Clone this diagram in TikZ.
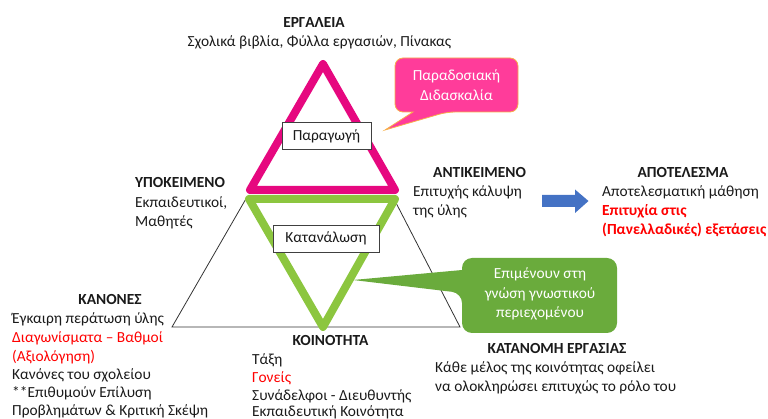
\documentclass[tikz,border=0pt]{standalone}
\usepackage{fontspec}
\setmainfont{Carlito}
\definecolor{pinkT}{HTML}{E6087F}
\definecolor{pinkC}{HTML}{FF3C9A}
\definecolor{pinkB}{HTML}{F7B04A}
\definecolor{greenT}{HTML}{8CC63F}
\definecolor{greenC}{HTML}{6AAB3C}
\definecolor{blueA}{HTML}{4472C4}
\definecolor{txt}{HTML}{1A1A1A}
\definecolor{redT}{HTML}{FF0000}
\begin{document}
\begin{tikzpicture}[x=1pt,y=-1pt,
  every node/.style={inner sep=0pt,font=\fontsize{15.4}{19}\selectfont,text=txt},
  ln/.style={anchor=base west},
  ttl/.style={anchor=base,font=\fontsize{15.4}{19}\selectfont\bfseries},
  red/.style={text=redT},
  redb/.style={text=redT,font=\fontsize{15.4}{19}\selectfont\bfseries},
  lbox/.style={draw=black!75,line width=0.7pt,fill=white,minimum width=#1,minimum height=27pt},
  ctext/.style={text=white,align=center,font=\fontsize{15.4}{19.5}\selectfont}]
\useasboundingbox (0,0) rectangle (768,419);
% thin outer triangle
\coordinate (bl) at (172,327);
\coordinate (br) at (460,327);
\coordinate (gl) at (247,197);
\coordinate (gr) at (393,197);
\draw[black!80,line width=0.8pt] (gr) -- (br) -- (bl) -- (gl);
% green triangle
\coordinate (g1) at (249,199);
\coordinate (g2) at (395,199);
\coordinate (g3) at (323,327);
\draw[greenT,line width=8pt,line join=round] (g1) -- (g2) -- (g3) -- cycle;
% pink triangle
\coordinate (p1) at (323,64);
\coordinate (p2) at (395,190);
\coordinate (p3) at (250,190);
\draw[pinkT,line width=8pt,line join=round] (p1) -- (p2) -- (p3) -- cycle;
% label boxes
\node[lbox=89pt] (prod) at (326.5,136) {Παραγωγή};
\node[lbox=106pt] (cons) at (326,238.5) {Κατανάλωση};
% pink callout
\draw[pinkB,line width=0.8pt,fill=pinkC,rounded corners=8pt]
  (456,58) -- (518,58) -- (518,112) -- (447,112) [sharp corners] -- (385,130) -- (413,112) [rounded corners=8pt] -- (395,112) -- (395,58) -- cycle;
\node[ctext] (trad) at (456.5,85) {Παραδοσιακή\\Διδασκαλία};
% green callout
\fill[greenC,rounded corners=10pt]
  (540,258) -- (617,258) -- (617,333) -- (462,333) -- (462,293) [sharp corners] -- (353,280) -- (462,270) [rounded corners=10pt] -- (462,258) -- cycle;
\node[ctext] (insist) at (540,294) {Επιμένουν στη\\γνώση γνωστικού\\περιεχομένου};
% blue arrow
\fill[blueA] (542,195) -- (575,195) -- (575,189.5) -- (588.5,201) -- (575,213) -- (575,207) -- (542,207) -- cycle;
% tools
\node[ttl] (t0) at (314,28) {ΕΡΓΑΛΕΙΑ};
\node[anchor=base] (t1) at (319.5,47) {Σχολικά βιβλία, Φύλλα εργασιών, Πίνακας};
% subject
\node[ttl,anchor=base west] (s0) at (135,188) {ΥΠΟΚΕΙΜΕΝΟ};
\node[ln] (s1) at (135,208) {Εκπαιδευτικοί,};
\node[ln] (s2) at (135,227) {Μαθητές};
% object
\node[ttl,anchor=base west] (o0) at (433,178) {ΑΝΤΙΚΕΙΜΕΝΟ};
\node[ln] (o1) at (413,197) {Επιτυχής κάλυψη};
\node[ln] (o2) at (413,215.5) {της ύλης};
% outcome
\node[ttl] (r0) at (683,178) {ΑΠΟΤΕΛΕΣΜΑ};
\node[ln] (r1) at (602,197) {Αποτελεσματική μάθηση};
\node[ln,redb] (r2) at (602,216) {Επιτυχία στις};
\node[ln,redb] (r3) at (602,235) {(Πανελλαδικές) εξετάσεις};
% rules
\node[ttl] (k0) at (110,305) {ΚΑΝΟΝΕΣ};
\node[ln] (k1) at (12,324) {Έγκαιρη περάτωση ύλης};
\node[ln,red] (k2) at (12,342.5) {Διαγωνίσματα – Βαθμοί};
\node[ln,red] (k3) at (12,361) {(Αξιολόγηση)};
\node[ln] (k4) at (12,379) {Κανόνες του σχολείου};
\node[ln] (k5) at (12,397.5) {**Επιθυμούν Επίλυση};
\node[ln] (k6) at (12,415.5) {Προβλημάτων \& Κριτική Σκέψη};
% community
\node[ttl] (c0) at (330.5,345) {ΚΟΙΝΟΤΗΤΑ};
\node[ln] (c1) at (252,364) {Τάξη};
\node[ln,red] (c2) at (252,382) {Γονείς};
\node[ln] (c3) at (252,400) {Συνάδελφοι - Διευθυντής};
\node[ln] (c4) at (252,416) {Εκπαιδευτική Κοινότητα};
% division of labour
\node[ttl] (d0) at (557,353) {ΚΑΤΑΝΟΜΗ ΕΡΓΑΣΙΑΣ};
\node[ln] (d1) at (435,372.5) {Κάθε μέλος της κοινότητας οφείλει};
\node[ln] (d2) at (435,391) {να ολοκληρώσει επιτυχώς το ρόλο του};
\end{tikzpicture}
\end{document}
